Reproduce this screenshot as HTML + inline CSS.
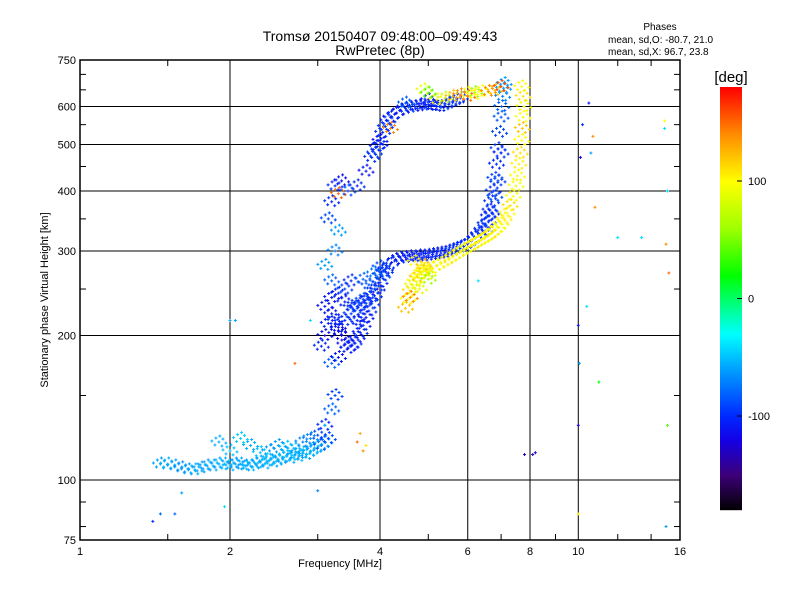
<!DOCTYPE html>
<html><head><meta charset="utf-8"><style>
body{margin:0;background:#fff}
svg text{font-family:"Liberation Sans","DejaVu Sans",sans-serif;fill:#000}
</style></head><body>
<svg id="c" width="800" height="600" viewBox="0 0 800 600">
<rect width="800" height="600" fill="#fff"/>
<text x="380" y="41" font-size="14" text-anchor="middle">Tromsø 20150407 09:48:00–09:49:43</text>
<text x="380" y="55" font-size="14" text-anchor="middle">RwPretec (8p)</text>
<text x="660" y="30" font-size="10" text-anchor="middle">Phases</text>
<text x="608" y="43" font-size="10">mean, sd,O: -80.7, 21.0</text>
<text x="608" y="55" font-size="10">mean, sd,X:  96.7, 23.8</text>
<g id="grid"></g><g id="marks"></g><g id="axes"></g>
<text x="340" y="567" font-size="11" text-anchor="middle">Frequency [MHz]</text>
<text transform="translate(48,300) rotate(-90)" font-size="11" text-anchor="middle">Stationary phase Virtual Height [km]</text>
<g id="cbar"></g>
<text x="731" y="82" font-size="15" text-anchor="middle">[deg]</text>
</svg>
<script>
const xTicks=[1,2,4,6,8,10,16];
const yTicks=[75,100,200,300,400,500,600,750];
const cbTicks=[100,0,-100];
const eRegionF=[1.45,1.5,1.55,1.6,1.65,1.7,1.75,1.8,1.85,1.9,1.95,2.0,2.05,2.1,2.15,2.2,2.25,2.3,2.35,2.4,2.45,2.5,2.55,2.6,2.65,2.7,2.75,2.8,2.85,2.9,2.95,3.0,3.05,3.1,3.15,2.0,2.2,2.4,2.6,2.8,3.0,3.1,3.2,3.25,1.9,2.1,2.3,2.5,2.7,2.9];
const eRegionH=[108,108,107,106,105,105,106,107,107,108,108,107,108,108,107,107,108,109,108,110,109,110,111,112,111,113,112,114,113,115,116,117,118,120,122,115,118,115,117,120,124,130,140,150,120,122,114,118,116,122];
const eRegionP=[-60,-55,-60,-65,-60,-55,-60,-60,-55,-60,-50,-55,-60,-55,-60,-50,-55,-60,-55,-50,-60,-55,-60,-50,-55,-60,-50,-55,-60,-50,-55,-60,-80,-60,-90,-50,-55,-60,-50,-70,-90,-100,-80,-90,-55,-45,-50,-60,-55,-65];
const f1F=[3.1,3.15,3.2,3.25,3.3,3.35,3.4,3.45,3.5,3.55,3.6,3.65,3.7,3.75,3.8,3.85,3.9,3.95,4.0,4.05,4.1,3.2,3.3,3.4,3.5,3.6,3.7,3.8,3.9,3.3,3.4,3.5,3.6,3.7,3.2,3.25,3.3,3.2,3.15,3.1,3.1,3.05,3.2,3.3,3.6,3.8,3.4,3.5,3.7,3.9,4.0];
const f1H=[200,212,222,215,208,200,192,188,190,193,198,203,210,218,225,233,242,250,258,266,272,240,245,235,230,228,235,240,250,205,215,222,230,238,260,300,330,380,350,280,230,190,175,180,215,255,250,260,262,270,278];
const f1P=[-110,-105,-110,-100,-110,-115,-110,-105,-110,-100,-110,-100,-105,-110,-100,-95,-100,-110,-100,-90,-100,-110,-100,-105,-95,-90,-100,-105,-90,-110,-100,-95,-100,-90,-80,-70,-60,-100,-90,-60,-110,-100,-80,-110,-100,-90,-95,-100,-80,-70,-90];
const f2oF=[4.0,4.1,4.2,4.3,4.4,4.5,4.6,4.7,4.8,4.9,5.0,5.1,5.2,5.3,5.4,5.5,5.6,5.7,5.8,5.9,6.0,6.1,6.2,6.3,6.4,6.5,6.6,6.65,6.7,6.75,6.8,6.85,6.9,6.95,7.0,7.02,7.05,7.08,7.1,6.5,6.6,6.7,6.8,6.9,7.0];
const f2oH=[268,275,282,288,290,291,292,292,293,293,294,295,296,297,298,300,302,304,306,308,311,315,320,326,333,342,355,365,380,400,425,455,490,530,570,600,630,655,670,330,345,360,390,420,480];
const f2oP=[-90,-100,-95,-110,-100,-105,-110,-100,-105,-110,-100,-105,-100,-110,-105,-100,-95,-100,-105,-100,-95,-100,-105,-100,-95,-100,-105,-100,-95,-100,-90,-100,-95,-90,-85,-80,-70,-60,-60,-100,-95,-100,-90,-95,-100];
const upF=[3.6,3.75,3.85,3.9,3.95,4.0,4.05,4.1,4.15,4.2,4.3,4.4,4.5,4.6,4.7,4.8,4.9,5.0,5.1,5.2,5.3,5.4,5.5,5.6,5.7,5.8,6.0,6.2,4.0,4.2,4.5,5.0,3.3,3.25,3.35,3.45];
const upH=[410,440,470,480,495,510,530,545,560,570,580,590,595,598,600,602,604,605,603,600,600,605,610,615,620,625,630,635,500,540,610,620,395,410,420,400];
const upP=[-100,-110,-100,-90,-105,-110,-100,-95,-100,-105,-100,-110,-100,-95,-110,-100,-100,-105,-100,-110,-100,-90,-105,-100,-95,-100,150,100,-100,140,-80,-110,150,-100,-110,-90];
const xtrF=[4.5,4.55,4.6,4.65,4.7,4.75,4.8,4.85,4.9,4.95,5.0,5.1,5.2,5.3,5.4,5.5,5.6,5.7,5.8,5.9,6.0,6.1,6.2,6.3,6.4,6.5,6.6,6.7,6.8,6.9,7.0,7.1,7.2,7.3,7.4,7.5,7.55,7.6,7.65,7.7,7.72,7.75,7.78,7.75,7.7,4.6,4.8,5.0,4.7,4.9];
const xtrH=[228,238,248,255,260,265,268,272,275,272,268,276,280,283,286,289,292,296,299,302,305,308,311,314,317,320,323,327,331,336,342,350,360,373,390,410,430,455,480,510,540,570,600,630,660,240,250,262,285,280];
const xtrP=[120,100,110,90,100,120,100,95,110,100,90,100,105,95,100,110,100,95,105,100,90,100,110,100,95,105,100,110,100,95,100,105,100,110,100,95,100,105,110,100,120,100,95,110,100,140,90,60,100,120];
const upxF=[5.2,5.4,5.6,5.8,6.0,6.2,6.4,6.6,6.8,7.0,4.9,5.0];
const upxH=[620,625,630,635,640,642,645,645,648,660,650,640];
const upxP=[100,80,120,140,100,60,100,140,120,160,90,40];
const strayF=[10.2,10.1,10.0,10.0,10.05,14.9,15.1,15.2,15.0,15.1,10.5,10.7,10.6,12.0,13.4,7.8,8.2,8.1,3.6,3.7,3.65,3.75,1.4,1.45,1.55,1.6,2.0,2.05,1.95,2.7,2.9,3.1,3.0,6.3,10.4,10.8,14.9,15.0,10.0,11.0];
const strayH=[550,470,210,85,175,560,130,270,80,400,610,520,480,320,320,113,114,113,120,115,125,118,82,85,85,94,215,215,88,175,215,130,95,260,230,370,540,310,130,160];
const strayP=[-100,-120,-110,100,-60,100,40,150,-60,-40,-110,140,-60,-40,-40,-130,-130,-130,150,140,130,110,-100,-80,-80,-60,-60,-60,-40,150,-40,-50,-70,-40,-40,140,-40,140,-120,20];

const X0=80,X1=680,Y0=540,Y1=60;
const xs=f=>X0+(X1-X0)*Math.log2(f)/4;
const ys=h=>Y0-(Y0-Y1)*Math.log10(h/75);
const stops=[[-180,[0,0,0]],[-150,[60,0,120]],[-120,[20,0,230]],[-100,[0,40,255]],[-60,[0,160,255]],[-30,[0,255,255]],[20,[0,255,0]],[60,[160,255,0]],[100,[255,255,0]],[140,[255,140,0]],[180,[255,0,0]]];
function cmap(p){p=Math.max(-180,Math.min(180,p));for(let i=1;i<stops.length;i++){if(p<=stops[i][0]){const a=stops[i-1],b=stops[i],t=(p-a[0])/(b[0]-a[0]);return 'rgb('+a[1].map((v,k)=>Math.round(v+(b[1][k]-v)*t)).join(',')+')';}}return 'rgb(255,0,0)';}
const NS='http://www.w3.org/2000/svg';
function mk(tag,at,par){const e=document.createElementNS(NS,tag);for(const k in at)e.setAttribute(k,at[k]);par.appendChild(e);return e;}
const grid=document.getElementById('grid'),axes=document.getElementById('axes'),marks=document.getElementById('marks'),cb=document.getElementById('cbar');
xTicks.forEach(v=>{const x=xs(v);
 if(v>1&&v<16){const l=mk('line',{x1:x,x2:x,y1:Y1,y2:Y0,stroke:'#000','stroke-width':1},grid);
 
 }
 const t=mk('text',{x:x,y:Y0+15,'font-size':11,'text-anchor':'middle'},axes);t.textContent=v;
 
 });
yTicks.forEach(v=>{const y=ys(v);
 if(v>75&&v<750){const l=mk('line',{x1:X0,x2:X1,y1:y,y2:y,stroke:'#000','stroke-width':1},grid);
 
 }
 const t=mk('text',{x:X0-4,y:y+4,'font-size':11,'text-anchor':'end'},axes);t.textContent=v;
 
 });
[1.5,3,5,7,9,12,14].forEach(v=>{const x=xs(v);mk('line',{x1:x,x2:x,y1:Y0,y2:Y0-6,stroke:'#000'},axes);mk('line',{x1:x,x2:x,y1:Y1,y2:Y1+6,stroke:'#000'},axes);});
[80,90,150,250,350,450,550,650,700].forEach(v=>{const y=ys(v);mk('line',{x1:X0,x2:X0+6,y1:y,y2:y,stroke:'#000'},axes);mk('line',{x1:X1,x2:X1-6,y1:y,y2:y,stroke:'#000'},axes);});
const fr=mk('rect',{x:X0,y:Y1,width:X1-X0,height:Y0-Y1,fill:'none',stroke:'#000','stroke-width':1.5},axes);


const offs=[[0,0],[4,-3],[-4,3],[3,4],[-3,-4],[7,1],[-7,-1],[1,-6]];
function series(F,H,P,name){for(let i=0;i<F.length;i++){const x=xs(F[i]),y=ys(H[i]);const g=mk('g',{fill:cmap(P[i])},marks);
 
 
 offs.forEach(o=>{mk('rect',{x:x+o[0]-1.5,y:y+o[1]-0.5,width:3,height:1},g);mk('rect',{x:x+o[0]-0.5,y:y+o[1]-1.5,width:1,height:3},g);});}}
series(eRegionF,eRegionH,eRegionP,'e-region');
series(f1F,f1H,f1P,'f1-trace');
series(f2oF,f2oH,f2oP,'f2-o-trace');
series(upF,upH,upP,'upper-o-trace');
series(xtrF,xtrH,xtrP,'x-trace');
series(upxF,upxH,upxP,'upper-x-trace');
for(let i=0;i<strayF.length;i++){const x=xs(strayF[i]),y=ys(strayH[i]);const g=mk('g',{fill:cmap(strayP[i])},marks);
 
 
 mk('rect',{x:x-1.5,y:y-0.5,width:3,height:1},g);mk('rect',{x:x-0.5,y:y-1.5,width:1,height:3},g);}
const CB0=87,CB1=510;
for(let y=CB0;y<CB1;y++){const p=180-360*(y-CB0)/(CB1-CB0);mk('rect',{x:720,y:y,width:22,height:1.2,fill:cmap(p)},cb);}
const cbr=mk('rect',{x:720,y:CB0,width:22,height:CB1-CB0,fill:'none'},cb);


cbTicks.forEach(v=>{const y=CB0+(180-v)*(CB1-CB0)/360;mk('line',{x1:737,x2:742,y1:y,y2:y,stroke:'#000'},cb);
 const t=mk('text',{x:748,y:y+4,'font-size':11},cb);t.textContent=v;
 
 });
</script>
</body></html>
